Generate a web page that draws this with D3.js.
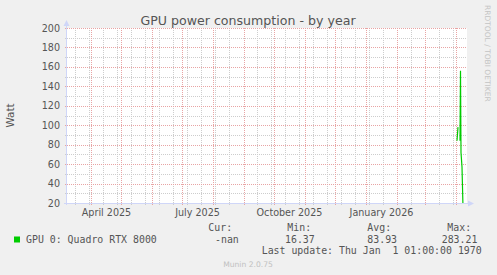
<!DOCTYPE html>
<html><head><meta charset="utf-8">
<script src="https://cdn.jsdelivr.net/npm/d3@7"></script>
<style>
html,body{margin:0;padding:0;background:#f0f0f0;}
svg{display:block;}
</style></head>
<body>
<svg id="c" width="497" height="275"></svg>
<script>
// ---- data ----
const title = "GPU power consumption - by year";
const yLabel = "Watt";
const timeDomain = ["2025-03-08T00:00", "2026-04-12T00:00"];
const times = ["2026-04-02T00:00", "2026-04-03T00:00", "2026-04-04T00:00", "2026-04-05T00:00", "2026-04-05T12:00", "2026-04-06T00:00", "2026-04-07T00:00", "2026-04-08T00:00"];
const values = [84, 98, null, 84, 156, 72, 57, 16];
const yTicks = [20, 40, 60, 80, 100, 120, 140, 160, 180, 200];
const yMinorTicks = [30, 50, 70, 90, 110, 130, 150, 170, 190];
const xLabelMonths = ["2025-04-01T00:00", "2025-07-01T00:00", "2025-10-01T00:00", "2026-01-01T00:00"];
const xLabelTexts = ["April 2025", "July 2025", "October 2025", "January 2026"];
const seriesName = "GPU 0: Quadro RTX 8000";
const legendHeaders = ["Cur:", "Min:", "Avg:", "Max:"];
const legendValues = ["-nan", "16.37", "83.93", "283.21"];
const lastUpdate = "Last update: Thu Jan  1 01:00:00 1970";
const footer = "Munin 2.0.75";
const watermark = "RRDTOOL / TOBI OETIKER";

// ---- drawing ----
const parse = d3.utcParse("%Y-%m-%dT%H:%M");
const svg = d3.select("#c");
const L = 67, R = 467, T = 28, B = 203;
const x = d3.scaleUtc().domain(timeDomain.map(parse)).range([L, R]);
const y = d3.scaleLinear().domain([20, 200]).range([B, T]);

svg.append("rect").attr("x", L).attr("y", T).attr("width", R - L).attr("height", B - T).attr("fill", "#fff");

const g = svg.append("g");
const minorCol = "#cdcdcd", majorCol = "#e8a4a4";
const px = v => Math.round(v) + 0.5;
const [d0, d1] = x.domain();
const months = d3.utcMonth.range(d0, d1);
const monthPx = months.map(d => Math.round(x(d)));
// minor horizontal
g.selectAll(".hm").data(yMinorTicks).join("line")
  .attr("x1", L - 2).attr("x2", R).attr("y1", d => px(y(d))).attr("y2", d => px(y(d)))
  .attr("stroke", minorCol).attr("stroke-dasharray", "1,1");
// minor vertical (every two weeks), skipped where a month line falls
const minorX = d3.utcSunday.range(d0, d1).filter((d, i) => i % 2 === 1)
  .filter(d => !monthPx.some(m => Math.abs(m - Math.round(x(d))) < 2));
g.selectAll(".vm").data(minorX).join("line")
  .attr("x1", d => px(x(d))).attr("x2", d => px(x(d))).attr("y1", T).attr("y2", B + 2)
  .attr("stroke", minorCol).attr("stroke-dasharray", "1,1");
// major horizontal
g.selectAll(".hM").data(yTicks).join("line")
  .attr("x1", L - 2).attr("x2", R).attr("y1", d => px(y(d))).attr("y2", d => px(y(d)))
  .attr("stroke", majorCol).attr("stroke-dasharray", "1,1");
// major vertical (months)
g.selectAll(".vM").data(months).join("line")
  .attr("x1", d => px(x(d))).attr("x2", d => px(x(d))).attr("y1", T).attr("y2", B + 3)
  .attr("stroke", majorCol).attr("stroke-dasharray", "1,1");

// axes
const axisCol = "#cfd6f8";
g.append("line").attr("x1", L - 0.5).attr("x2", L - 0.5).attr("y1", B + 2).attr("y2", T - 4).attr("stroke", axisCol);
g.append("line").attr("x1", L - 3).attr("x2", R + 2).attr("y1", B + 0.5).attr("y2", B + 0.5).attr("stroke", axisCol);
svg.append("path").attr("d", `M${L - 3.5},${T - 2} L${L - 0.5},${T - 8} L${L + 2.5},${T - 2} Z`).attr("fill", axisCol);
svg.append("path").attr("d", `M${R + 1},${B - 2.5} L${R + 7},${B + 0.5} L${R + 1},${B + 3.5} Z`).attr("fill", axisCol);

// y tick labels
const txtCol = "#555";
svg.selectAll(".yl").data(yTicks).join("text")
  .attr("x", 60).attr("y", d => y(d) + 3.5).attr("text-anchor", "end")
  .attr("font-family", "DejaVu Sans").attr("font-size", 9.6).attr("fill", txtCol).text(d => d);

// x labels (centred half a month after month start)
svg.selectAll(".xl").data(xLabelMonths).join("text")
  .attr("x", d => x(d3.utcHour.offset(parse(d), 15 * 24 + 12))).attr("y", 215.5).attr("text-anchor", "middle")
  .attr("font-family", "DejaVu Sans").attr("font-size", 9.6).attr("fill", txtCol).text((d, i) => xLabelTexts[i]);

// title
svg.append("text").attr("x", 248).attr("y", 24.5).attr("text-anchor", "middle")
  .attr("font-family", "DejaVu Sans").attr("font-size", 12.6).attr("fill", txtCol).text(title);
// y label
svg.append("text").attr("transform", `translate(13.5,${(T + B) / 2}) rotate(-90)`).attr("text-anchor", "middle")
  .attr("font-family", "DejaVu Sans").attr("font-size", 10.4).attr("fill", txtCol).text(yLabel);
// watermark
svg.append("text").attr("transform", `translate(485,5) rotate(90)`).attr("text-anchor", "start")
  .attr("font-family", "DejaVu Sans").attr("font-size", 7.5).attr("fill", "#c4c4c4").text(watermark);

// data line
svg.append("clipPath").attr("id", "clip").append("rect").attr("x", L).attr("y", T).attr("width", R - L).attr("height", B - T);
const pts = times.map((d, i) => [parse(d), values[i]]);
svg.append("path").datum(pts).attr("clip-path", "url(#clip)")
  .attr("d", d3.line().defined(d => d[1] != null).x(d => x(d[0])).y(d => y(d[1])))
  .attr("fill", "none").attr("stroke", "#00cc00").attr("stroke-width", 1.2);

// legend
const mono = "DejaVu Sans Mono", ms = 9.9;
svg.append("rect").attr("x", 14).attr("y", 236.5).attr("width", 6).attr("height", 6).attr("fill", "#00cc00");
svg.append("text").attr("x", 26).attr("y", 242.5).attr("font-family", mono).attr("font-size", ms).attr("fill", txtCol).text(seriesName);
const hdrX = [208.3, 287.3, 367.3, 447.3];
const valX = [215, 285, 367.3, 441.7];
svg.selectAll(".lh").data(legendHeaders).join("text").attr("x", (d, i) => hdrX[i]).attr("y", 231)
  .attr("font-family", mono).attr("font-size", ms).attr("fill", txtCol).text(d => d);
svg.selectAll(".lv").data(legendValues).join("text").attr("x", (d, i) => valX[i]).attr("y", 242.5)
  .attr("font-family", mono).attr("font-size", ms).attr("fill", txtCol).text(d => d);
svg.append("text").attr("x", 261.7).attr("y", 254).attr("font-family", mono).attr("font-size", ms).attr("fill", txtCol)
  .style("white-space", "pre").text(lastUpdate);
svg.append("text").attr("x", 248).attr("y", 267).attr("text-anchor", "middle")
  .attr("font-family", "DejaVu Sans").attr("font-size", 7.6).attr("fill", "#c0c0c0").text(footer);
</script>
</body></html>
